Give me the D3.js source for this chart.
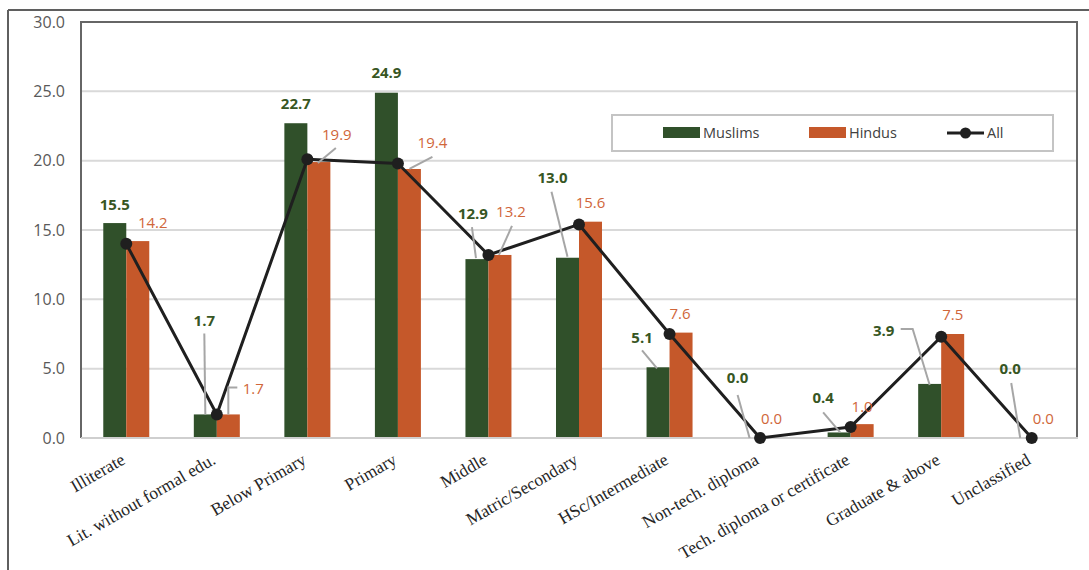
<!DOCTYPE html>
<html><head><meta charset="utf-8">
<script src="https://cdn.jsdelivr.net/npm/d3@7"></script>
<style>body{margin:0;background:#fff}svg{display:block}</style>
</head><body>
<svg id="c" width="1089" height="570"></svg>
<script>
const categories = ["Illiterate","Lit. without formal edu.","Below Primary","Primary","Middle","Matric/Secondary","HSc/Intermediate","Non-tech. diploma","Tech. diploma or certificate","Graduate & above","Unclassified"];
const muslims = [15.5,1.7,22.7,24.9,12.9,13.0,5.1,0.0,0.4,3.9,0.0];
const hindus  = [14.2,1.7,19.9,19.4,13.2,15.6,7.6,0.0,1.0,7.5,0.0];
const allSeries = [14.0,1.7,20.1,19.8,13.2,15.4,7.5,0.0,0.8,7.3,0.0];
const yTicks = [0,5,10,15,20,25,30];
const seriesNames = ["Muslims","Hindus","All"];

// label layout: [dx, dy] of label centre from bar top centre
const mLabelPos = [[0,-18],[-1,-94],[0,-20],[0,-20],[-4,-46],[-15,-80],[-16,-30],[-11,-60],[-16,-35],[-46,-53],[-10,-69]];
const hLabelPos = [[15,-18],[25,-26],[18,-27],[23,-26],[11,-43],[0,-19],[-1,-19],[0,-19],[0,-18],[0,-19],[0,-19]];
// leaders: points relative to label centre, final point relative to bar top centre
const mLeaders = {1:{p:[[0,13]],to:[0,0]},4:{p:[[-1,14]],to:[-1,-1]},5:{p:[[-1,14]],to:[0,-1]},6:{p:[[0,13]],to:[-1,1]},7:{p:[[0,17]],to:[1,0]},8:{p:[[0,15]],to:[1,0]},9:{p:[[17,-2],[29,-2]],to:[0,1]},10:{p:[[1,14]],to:[0,0]}};
const hLeaders = {1:{p:[[-16,-1],[-25,-1]],to:[0,0]},2:{p:[[-1,13]],to:[-1,1]},3:{p:[[0,14]],to:[0,0]},4:{p:[[1,14]],to:[-1,0]}};

const W=1089,H=570;
const m={left:81,right:1077,top:22,bottom:438};
const svg=d3.select("#c");
const green="#30502A", orange="#C5582A", greenTxt="#375623", orangeTxt="#D0663A";
const fontS="'Open Sans', sans-serif";

// outer frame
svg.append("line").attr("x1",8).attr("x2",W).attr("y1",10).attr("y2",10).attr("stroke","#5f5f5f").attr("stroke-width",2);
svg.append("line").attr("x1",8).attr("x2",8).attr("y1",10).attr("y2",H).attr("stroke","#5f5f5f").attr("stroke-width",2);

const x=d3.scaleBand().domain(categories).range([m.left,m.right]).paddingInner(0).paddingOuter(0);
const y=d3.scaleLinear().domain([0,30]).range([m.bottom,m.top]);
const barW=23;
const xs=d3.scaleBand().domain(["Muslims","Hindus"]).range([-barW,barW]);

// gridlines
svg.append("g").selectAll("line").data(yTicks.filter(d=>d>0&&d<30)).join("line")
  .attr("x1",m.left).attr("x2",m.right).attr("y1",d=>y(d)).attr("y2",d=>y(d))
  .attr("stroke","#d9d9d9").attr("stroke-width",2);

// y axis labels
const yAxis=d3.axisLeft(y).tickValues(yTicks).tickFormat(d3.format(".1f")).tickSize(0).tickPadding(16);
const ga=svg.append("g").attr("transform",`translate(${m.left},0)`).call(yAxis);
ga.select(".domain").remove();
ga.selectAll("text").attr("font-family",fontS).attr("font-size",16).attr("fill","#595959");

// bars
const cx=i=>x(categories[i])+x.bandwidth()/2;
svg.append("g").selectAll("rect").data(muslims).join("rect")
  .attr("x",(d,i)=>cx(i)+xs("Muslims")).attr("width",xs.bandwidth())
  .attr("y",d=>y(d)).attr("height",d=>y(0)-y(d)).attr("fill",green);
svg.append("g").selectAll("rect").data(hindus).join("rect")
  .attr("x",(d,i)=>cx(i)+xs("Hindus")).attr("width",xs.bandwidth())
  .attr("y",d=>y(d)).attr("height",d=>y(0)-y(d)).attr("fill",orange);

// plot border
svg.append("path").attr("d",`M${m.left},${m.bottom}V${m.top}H${m.right}V${m.bottom}`).attr("fill","none").attr("stroke","#666").attr("stroke-width",2);
svg.append("line").attr("x1",m.left).attr("x2",m.right+1).attr("y1",m.bottom).attr("y2",m.bottom).attr("stroke","#cfcfcf").attr("stroke-width",2);

// leaders and labels
function drawLabels(vals, pos, leaders, key, color, weight){
  const g=svg.append("g");
  vals.forEach((v,i)=>{
    const bx=cx(i)+xs(key)+xs.bandwidth()/2, by=y(v);
    const lx=bx+pos[i][0], ly=by+pos[i][1];
    const L=leaders[i];
    if(L){
      const pts=L.p.map(p=>[lx+p[0],ly+p[1]]);
      pts.push([bx+L.to[0],by+L.to[1]]);
      g.append("path").attr("d",d3.line()(pts)).attr("fill","none").attr("stroke","#a6a6a6").attr("stroke-width",2);
    }
    g.append("text").attr("x",lx).attr("y",ly).attr("dy","0.36em").attr("text-anchor","middle")
      .attr("font-family",fontS).attr("font-size",15).attr("font-weight",weight).attr("fill",color)
      .text(d3.format(".1f")(v));
  });
}

// line series
const line=d3.line().x((d,i)=>cx(i)).y(d=>y(d));
svg.append("path").datum(allSeries).attr("d",line).attr("fill","none").attr("stroke","#1f1f1f").attr("stroke-width",3).attr("stroke-linejoin","round");
drawLabels(muslims,mLabelPos,mLeaders,"Muslims",greenTxt,"bold");
drawLabels(hindus,hLabelPos,hLeaders,"Hindus",orangeTxt,"normal");
svg.append("g").selectAll("circle").data(allSeries).join("circle")
  .attr("cx",(d,i)=>cx(i)).attr("cy",d=>y(d)).attr("r",6).attr("fill","#1f1f1f");

// x labels
svg.append("g").selectAll("text").data(categories).join("text")
  .attr("transform",d=>`translate(${x(d)+x.bandwidth()/2},463) rotate(-30)`)
  .attr("text-anchor","end").attr("font-family","'Liberation Serif', 'Times New Roman', serif")
  .attr("font-size",17.5).attr("fill","#262626").text(d=>d);

// legend
const lg=svg.append("g");
lg.append("rect").attr("x",612).attr("y",115).attr("width",441).attr("height",36).attr("fill","#fff").attr("stroke","#c4c4c4").attr("stroke-width",2);
const legendItems=[{n:seriesNames[0],t:"bar",c:green,x:663},{n:seriesNames[1],t:"bar",c:orange,x:809},{n:seriesNames[2],t:"line",c:"#1f1f1f",x:947}];
legendItems.forEach(it=>{
  if(it.t==="bar") lg.append("rect").attr("x",it.x).attr("y",127).attr("width",37).attr("height",11).attr("fill",it.c);
  else{
    lg.append("line").attr("x1",it.x).attr("x2",it.x+37).attr("y1",133).attr("y2",133).attr("stroke",it.c).attr("stroke-width",3);
    lg.append("circle").attr("cx",it.x+18.5).attr("cy",133).attr("r",5.5).attr("fill",it.c);
  }
  lg.append("text").attr("x",it.x+40).attr("y",133).attr("dy","0.36em").attr("font-family",fontS).attr("font-size",14.5).attr("fill","#404040").text(it.n);
});
</script>
</body></html>
